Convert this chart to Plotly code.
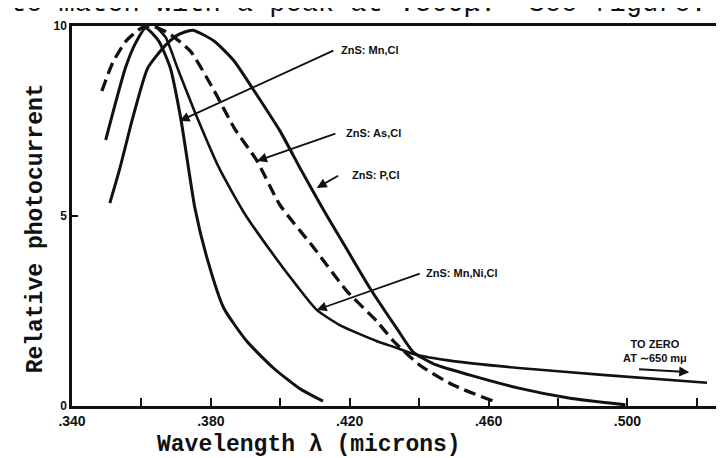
import plotly.graph_objects as go

# ---- data (wavelength in microns, relative photocurrent) ----
mncl_x = [0.3497, 0.3554, 0.3583, 0.3612, 0.3650, 0.3683, 0.3714, 0.3754, 0.3789, 0.3837, 0.3903, 0.3980, 0.4054, 0.4123]
mncl_y = [7.0, 8.9, 9.55, 9.95, 9.6, 8.9, 7.53, 5.21, 3.89, 2.58, 1.71, 1.0, 0.47, 0.13]

ascl_x = [0.3486, 0.3517, 0.3555, 0.3600, 0.3632, 0.3680, 0.3741, 0.3810, 0.3867, 0.3933, 0.3999, 0.4097, 0.4191, 0.4277, 0.4326, 0.4401, 0.4498, 0.4613]
ascl_y = [8.29, 9.03, 9.6, 9.95, 10.0, 9.8, 9.34, 8.29, 7.32, 6.45, 5.29, 4.16, 3.03, 2.24, 1.71, 1.08, 0.55, 0.13]

pcl_x = [0.3509, 0.3538, 0.3575, 0.3618, 0.3667, 0.3704, 0.3747, 0.3810, 0.3867, 0.3925, 0.3999, 0.4057, 0.4125, 0.4190, 0.4257, 0.4335, 0.4383, 0.4449, 0.4544, 0.4687, 0.4831, 0.4994]
pcl_y = [5.34, 6.26, 7.58, 8.89, 9.47, 9.76, 9.89, 9.6, 9.08, 8.29, 7.24, 6.26, 5.15, 4.15, 3.12, 2.05, 1.42, 1.08, 0.82, 0.47, 0.21, 0.03]

mnni_x = [0.3640, 0.3670, 0.3704, 0.3761, 0.3824, 0.3896, 0.3976, 0.4048, 0.4105, 0.4171, 0.4277, 0.4335, 0.4386, 0.4498, 0.4687, 0.4928, 0.5229]
mnni_y = [10.0, 9.7, 8.89, 7.58, 6.26, 5.08, 4.03, 3.16, 2.53, 2.13, 1.71, 1.53, 1.36, 1.18, 1.0, 0.82, 0.61]

x_tickvals = [0.34, 0.36, 0.38, 0.40, 0.42, 0.44, 0.46, 0.48, 0.50, 0.52]
x_ticktext = [".340", "", ".380", "", ".420", "", ".460", "", ".500", ""]
y_tickvals = [0, 5, 10]
y_ticktext = ["0", "5", "10"]

labels = ["ZnS: Mn,Cl", "ZnS: As,Cl", "ZnS: P,Cl", "ZnS: Mn,Ni,Cl"]
label_pos = [(0.4168, 9.37), (0.4183, 7.18), (0.4200, 6.08), (0.4415, 3.50)]
arrow_tips = [(0.3710, 7.50), (0.3933, 6.45), (0.4105, 5.74), (0.4105, 2.53)]
arrow_tails = [(0.4157, 9.37), (0.4163, 7.18), (0.4171, 6.08), (0.4406, 3.50)]

INK = "#111111"
fig = go.Figure()

def add_curve(x, y, dash=None, width=3):
    fig.add_trace(go.Scatter(
        x=x, y=y, mode="lines",
        line=dict(color=INK, width=width, shape="spline", smoothing=0.55,
                  dash=dash if dash else "solid"),
        showlegend=False, hoverinfo="skip"))

add_curve(mncl_x, mncl_y)
add_curve(pcl_x, pcl_y)
add_curve(mnni_x, mnni_y, width=2.6)
add_curve(ascl_x, ascl_y, dash="12px,6px", width=3.3)

annotations = []
lab_font = dict(family="Liberation Sans", size=11, color=INK)
for text, (lx, ly), (tx, ty), (ax, ay) in zip(labels, label_pos, arrow_tips, arrow_tails):
    annotations.append(dict(x=lx, y=ly, xref="x", yref="y", text="<b>" + text + "</b>",
                            showarrow=False, xanchor="left", yanchor="middle", font=lab_font))
    annotations.append(dict(x=tx, y=ty, ax=ax, ay=ay, xref="x", yref="y", axref="x", ayref="y",
                            text="", showarrow=True, arrowhead=2, arrowsize=1.1,
                            arrowwidth=1.8, arrowcolor=INK))

# "to zero" note
annotations.append(dict(x=0.5080, y=1.45, xref="x", yref="y",
                        text="<b>TO ZERO<br>AT ∼650 mμ</b>", showarrow=False,
                        font=dict(family="Liberation Sans", size=11, color=INK),
                        xanchor="center", yanchor="middle", align="center"))
annotations.append(dict(x=0.5178, y=0.89, ax=0.5029, ay=0.97, xref="x", yref="y",
                        axref="x", ayref="y", text="", showarrow=True, arrowhead=2,
                        arrowsize=1.0, arrowwidth=2, arrowcolor=INK))

mono = "Liberation Mono"
annotations.append(dict(x=-0.0549, y=0.468, xref="paper", yref="paper",
                        text="<b>Relative photocurrent</b>", textangle=-90, showarrow=False,
                        font=dict(family=mono, size=23, color=INK),
                        xanchor="center", yanchor="middle"))
annotations.append(dict(x=0.3628, y=-0.1026, xref="paper", yref="paper",
                        text="<b>Wavelength λ (microns)</b>", showarrow=False,
                        font=dict(family=mono, size=23, color=INK),
                        xanchor="center", yanchor="middle"))
# cropped page text at top
annotations.append(dict(x=-0.0976, y=1.0135, xref="paper", yref="paper",
                        text="to match with a peak at .360μ.  See figure.", showarrow=False,
                        font=dict(family=mono, size=27, color=INK),
                        xanchor="left", yanchor="bottom"))

fig.update_layout(
    width=724, height=458,
    margin=dict(l=64, r=4, t=18, b=60),
    paper_bgcolor="white", plot_bgcolor="white",
    annotations=annotations,
    xaxis=dict(range=[0.340, 0.5281], tickvals=x_tickvals,
               ticktext=["<b>" + t + "</b>" if t else "" for t in x_ticktext],
               ticks="inside", ticklen=8, tickwidth=2, tickcolor=INK,
               showline=True, linecolor=INK, linewidth=2.5, mirror=True,
               showgrid=False, zeroline=False,
               tickfont=dict(family="Liberation Sans", size=14, color=INK)),
    yaxis=dict(range=[0, 10], tickvals=y_tickvals,
               ticktext=["<b>" + t + "</b>" for t in y_ticktext],
               ticks="inside", ticklen=6, tickwidth=2, tickcolor=INK,
               showline=True, linecolor=INK, linewidth=2.5, mirror=True,
               showgrid=False, zeroline=False,
               tickfont=dict(family="Liberation Sans", size=12, color=INK)),
    font=dict(family="Liberation Sans", color=INK),
)

fig.write_html("out.html")
